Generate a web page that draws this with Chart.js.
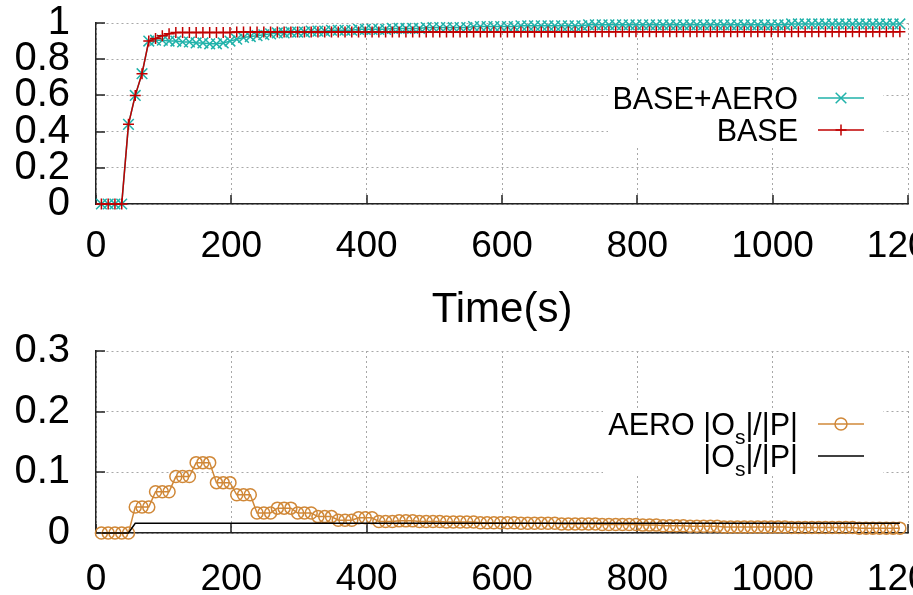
<!DOCTYPE html>
<html><head><meta charset="utf-8">
<script src="https://cdn.jsdelivr.net/npm/chart.js@4.4.1/dist/chart.umd.min.js"></script>
<style>
html,body{margin:0;padding:0;background:#fff;overflow:hidden;width:913px;height:595px;}
#w1{position:absolute;left:0;top:0;width:1000px;height:340px;}
#w2{position:absolute;left:0;top:320px;width:1000px;height:275px;}
canvas{display:block;}
</style></head><body>
<div id="w1"><canvas id="c1" width="1000" height="340"></canvas></div>
<div id="w2"><canvas id="c2" width="1000" height="275"></canvas></div>
<script>
// ---------- data ----------
const times = [8,18,28,38,48,58,68,78,88,98,108,118,128,138,148,158,168,178,188,198,208,218,228,238,248,258,268,278,288,298,308,318,328,338,348,358,368,378,388,398,408,418,428,438,448,458,468,478,488,498,508,518,528,538,548,558,568,578,588,598,608,618,628,638,648,658,668,678,688,698,708,718,728,738,748,758,768,778,788,798,808,818,828,838,848,858,868,878,888,898,908,918,928,938,948,958,968,978,988,998,1008,1018,1028,1038,1048,1058,1068,1078,1088,1098,1108,1118,1128,1138,1148,1158,1168,1178,1188];

const baseAero = [0,0,0,0,0.44,0.6,0.72,0.9,0.905,0.905,0.9,0.9,0.895,0.895,0.89,0.89,0.885,0.885,0.89,0.9,
0.91,0.92,0.925,0.93,0.935,0.94,0.945,0.945,0.95,0.95,0.95,0.955,0.955,0.955,0.96,0.96,0.96,0.96,0.965,0.965,0.965,
0.965,0.965,0.97,0.97,0.97,0.97,0.97,0.975,0.975,0.975,0.975,
0.975,0.975,0.975,0.98,0.98,0.98,0.98,0.98,0.98,0.98,
0.985,0.985,0.985,0.985,0.985,0.985,0.985,0.985,0.985,0.985,
0.99,0.99,0.99,0.99,0.99,0.99,0.99,0.99,0.99,0.99,
0.99,0.99,0.99,0.99,0.99,0.99,0.99,0.99,0.99,0.99,
0.99,0.99,0.99,0.99,0.99,0.99,0.99,0.99,0.99,0.99,
0.995,0.995,0.995,0.995,0.995,0.995,0.995,0.995,0.995,0.995,
0.995,0.995,0.995,0.995,0.995,0.995,0.995];

const base = [0,0,0,0,0.44,0.6,0.72,0.9,0.915,0.93,0.94,0.948,0.948,0.948,0.948,0.948,0.948,0.948,0.948,0.948,
0.95,0.95,0.95,0.95,0.95,0.95,0.95,0.95,0.95,0.95,0.95,0.95,0.95,0.95,0.95,0.95,0.95,0.95,0.95,0.95,0.95,
0.95,0.95,0.95,0.95,0.95,0.95,0.95,0.95,0.95,0.95,0.95,
0.95,0.95,0.95,0.95,0.95,0.95,0.95,0.95,0.95,0.95,
0.95,0.95,0.95,0.95,0.95,0.95,0.95,0.95,0.95,0.95,
0.952,0.952,0.952,0.952,0.952,0.952,0.952,0.952,0.952,0.952,
0.952,0.952,0.952,0.952,0.952,0.952,0.952,0.952,0.952,0.952,
0.952,0.952,0.952,0.952,0.952,0.952,0.952,0.952,0.952,0.952,
0.952,0.952,0.952,0.952,0.952,0.952,0.952,0.952,0.952,0.952,
0.952,0.952,0.952,0.952,0.952,0.952,0.952];

const aeroOsP = [0,0,0,0,0,
0.043,0.043,0.043, 0.068,0.068,0.068, 0.093,0.093,0.093, 0.116,0.116,0.116,
0.083,0.083,0.083, 0.063,0.063,0.063, 0.033,0.033,0.033, 0.041,0.041,0.041,
0.033,0.033,0.033, 0.027,0.027,0.027, 0.021,0.021,0.021, 0.025,0.025,0.025,
0.019,0.019,0.019,0.02,0.02,0.02,0.019,0.019,0.019,0.019,
0.018,0.018,0.018,0.018,0.018,0.017,0.017,0.017,0.017,0.017,
0.017,0.016,0.016,0.016,0.016,0.016,0.016,0.015,0.015,0.015,
0.015,0.015,0.015,0.014,0.014,0.014,0.014,0.014,0.014,0.013,
0.013,0.013,0.012,0.012,0.012,0.012,0.011,0.011,0.011,0.011,
0.011,0.010,0.010,0.010,0.010,0.010,0.010,0.010,0.010,0.010,
0.010,0.009,0.009,0.009,0.009,0.009,0.009,0.009,0.009,0.009,
0.009,0.008,0.008,0.008,0.008,0.008,0.008,0.008];

const osTimes = [8,48,58,1188];
const osP = [0,0,0.016,0.016];

const xTicks = [0,200,400,600,800,1000,1200];
const yTicksTop = [0,0.2,0.4,0.6,0.8,1];
const yTicksBottom = [0,0.1,0.2,0.3];

const labelsTop = ['BASE+AERO','BASE'];
const labelsBottom = [[['AERO |O',false],['s',true],['|/|P|',false]], [['|O',false],['s',true],['|/|P|',false]]];

// ---------- styles ----------
const FONT = "'Liberation Sans', Arial, sans-serif";
const GRID = '#a8a8a8';
const AXIS = '#222';
const TEAL = '#20b2aa', RED = '#c00000', ORANGE = '#d08838', BLACK = '#000';

const pts = (xs, ys) => xs.map((t, i) => ({x: t, y: ys[i]}));

function drawMarker(ctx, style, x, y, r, color, bw) {
  ctx.save(); ctx.strokeStyle = color; ctx.lineWidth = bw; ctx.beginPath();
  if (style === 'cross') { ctx.moveTo(x - r, y); ctx.lineTo(x + r, y); ctx.moveTo(x, y - r); ctx.lineTo(x, y + r); }
  else if (style === 'crossRot') { const d = r * Math.SQRT1_2; ctx.moveTo(x-d,y-d); ctx.lineTo(x+d,y+d); ctx.moveTo(x-d,y+d); ctx.lineTo(x+d,y-d); }
  else if (style === 'circle') { ctx.arc(x, y, r, 0, Math.PI*2); }
  ctx.stroke(); ctx.restore();
}

const inTicks = {
  id: 'inTicks',
  beforeDatasetsDraw(chart) {
    const {ctx, chartArea: ca, scales: {x, y}} = chart;
    ctx.save(); ctx.strokeStyle = AXIS; ctx.lineWidth = 1.5; ctx.beginPath();
    y.ticks.forEach(t => { const py = Math.round(y.getPixelForValue(t.value)); ctx.moveTo(ca.left, py); ctx.lineTo(ca.left + 9, py); });
    x.ticks.forEach(t => { const px = Math.round(x.getPixelForValue(t.value)); ctx.moveTo(px, ca.bottom); ctx.lineTo(px, ca.bottom - 9); });
    ctx.stroke(); ctx.restore();
  }
};

const gpLegend = {
  id: 'gpLegend',
  afterDatasetsDraw(chart, args, o) {
    const ctx = chart.ctx;
    ctx.save();
    ctx.fillStyle = '#fff';
    ctx.fillRect(o.box[0], o.box[1], o.box[2], o.box[3]);
    o.items.forEach(it => {
      const baseY = it.y + 10.5;
      const parts = Array.isArray(it.text) ? it.text : [[it.text, false]];
      const fN = '30.5px ' + FONT, fS = '21px ' + FONT;
      let w = 0;
      parts.forEach(p => { ctx.font = p[1] ? fS : fN; w += ctx.measureText(p[0]).width; });
      let x = o.textRight - w;
      ctx.fillStyle = '#000'; ctx.textBaseline = 'alphabetic'; ctx.textAlign = 'left';
      parts.forEach(p => {
        ctx.font = p[1] ? fS : fN;
        ctx.fillText(p[0], x, p[1] ? baseY + 9 : baseY);
        x += ctx.measureText(p[0]).width;
      });
      ctx.strokeStyle = it.color; ctx.lineWidth = 1.5;
      ctx.beginPath(); ctx.moveTo(o.sample[0], it.y); ctx.lineTo(o.sample[1], it.y); ctx.stroke();
      if (it.marker) drawMarker(ctx, it.marker, (o.sample[0] + o.sample[1]) / 2, it.y, it.r, it.color, 1.5);
    });
    ctx.restore();
  }
};

const fmt = v => String(v);

function xScale(h, pad, withTitle) {
  return {
    type: 'linear', min: 0, max: 1200,
    afterBuildTicks: s => { s.ticks = xTicks.map(v => ({value: v})); },
    afterFit: s => { s.height = h; },
    ticks: {padding: pad, color: '#000', maxRotation: 0, autoSkip: false, callback: fmt, font: {family: FONT, size: 37, lineHeight: 1}},
    grid: {color: GRID, lineWidth: 1, drawTicks: false},
    border: {display: true, color: AXIS, width: 1.5, dash: [2, 3]},
    title: withTitle ? {display: true, text: 'Time(s)', color: '#000', font: {family: FONT, size: 42, lineHeight: 1.2}, padding: {top: 0, bottom: 4}} : {display: false}
  };
}
function yScale(min, max, tickArr) {
  return {
    type: 'linear', min: min, max: max,
    afterBuildTicks: s => { s.ticks = tickArr.map(v => ({value: v})); },
    afterFit: s => { s.width = 96; },
    ticks: {padding: 0, color: '#000', autoSkip: false, callback: fmt, font: {family: FONT, size: 40, lineHeight: 1}},
    grid: {color: GRID, lineWidth: 1, drawTicks: true, tickLength: 26, tickColor: 'rgba(0,0,0,0)'},
    border: {display: true, color: AXIS, width: 1.5, dash: [2, 3]}
  };
}

const common = {responsive: false, devicePixelRatio: 1, animation: false, events: []};

new Chart(document.getElementById('c1'), {
  type: 'line',
  data: {datasets: [
    {label: labelsTop[0], data: pts(times, baseAero), borderColor: TEAL, borderWidth: 1.5, pointStyle: 'crossRot', pointRadius: 7.5, pointBorderWidth: 1.5, pointBorderColor: TEAL, pointBackgroundColor: TEAL, tension: 0, clip: false, order: 1},
    {label: labelsTop[1], data: pts(times, base), borderColor: RED, borderWidth: 1.5, pointStyle: 'cross', pointRadius: 5.5, pointBorderWidth: 1.5, pointBorderColor: RED, pointBackgroundColor: RED, tension: 0, clip: false, order: 0}
  ]},
  options: Object.assign({}, common, {
    layout: {padding: {left: 0, top: 23, right: 92, bottom: 0}},
    scales: {x: xScale(136, 24, true), y: yScale(0, 1, yTicksTop)},
    plugins: {
      legend: {display: false}, tooltip: {enabled: false},
      gpLegend: {box: [608, 82, 275, 64], textRight: 798, sample: [818, 864], items: [
        {text: labelsTop[0], y: 98, color: TEAL, marker: 'crossRot', r: 7.5},
        {text: labelsTop[1], y: 130, color: RED, marker: 'cross', r: 5.5}
      ]}
    }
  }),
  plugins: [inTicks, gpLegend]
});

new Chart(document.getElementById('c2'), {
  type: 'line',
  data: {datasets: [
    {label: 'AERO |Os|/|P|', data: pts(times, aeroOsP), borderColor: ORANGE, borderWidth: 1.5, pointStyle: 'circle', pointRadius: 6, pointBorderWidth: 1.5, pointBorderColor: ORANGE, pointBackgroundColor: 'rgba(0,0,0,0)', tension: 0, clip: false, order: 1},
    {label: '|Os|/|P|', data: pts(osTimes, osP), borderColor: BLACK, borderWidth: 1.5, pointRadius: 0, tension: 0, clip: false, order: 0}
  ]},
  options: Object.assign({}, common, {
    layout: {padding: {left: 0, top: 31, right: 92, bottom: 0}},
    scales: {x: xScale(62, 28, false), y: yScale(0, 0.3, yTicksBottom)},
    plugins: {
      legend: {display: false}, tooltip: {enabled: false},
      gpLegend: {box: [603, 88, 280, 68], textRight: 798, sample: [818, 864], items: [
        {text: labelsBottom[0], y: 104, color: ORANGE, marker: 'circle', r: 6},
        {text: labelsBottom[1], y: 136, color: BLACK, marker: null}
      ]}
    }
  }),
  plugins: [inTicks, gpLegend]
});
</script>
</body></html>
